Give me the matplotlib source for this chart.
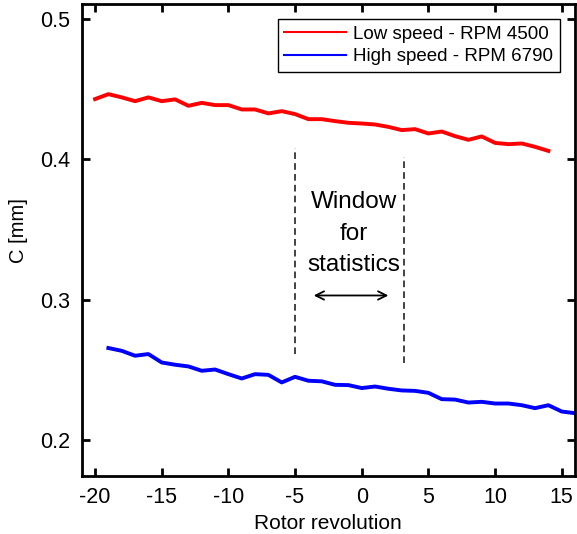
import numpy as np
import matplotlib
matplotlib.use("Agg")
import matplotlib.pyplot as plt
from matplotlib.lines import Line2D

plt.rcParams['font.family'] = ['Liberation Sans', 'DejaVu Sans']
plt.rcParams['axes.unicode_minus'] = False

# low speed (RPM 4500), revolutions -20..14
rev_low = list(range(-20, 15))
c_low = [0.4428, 0.4463, 0.4440, 0.4413, 0.4440, 0.4413, 0.4426, 0.4380, 0.4401,
         0.4385, 0.4385, 0.4354, 0.4354, 0.4326, 0.4342, 0.4321, 0.4285, 0.4285,
         0.4271, 0.4259, 0.4254, 0.4247, 0.4230, 0.4207, 0.4214, 0.4183, 0.4197,
         0.4164, 0.4138, 0.4162, 0.4116, 0.4107, 0.4112, 0.4088, 0.4059]

# high speed (RPM 6790), revolutions -19..16
rev_high = list(range(-19, 17))
c_high = [0.2656, 0.2636, 0.2601, 0.2613, 0.2553, 0.2537, 0.2525, 0.2494, 0.2503,
          0.2470, 0.2439, 0.2470, 0.2465, 0.2411, 0.2451, 0.2423, 0.2419, 0.2394,
          0.2392, 0.2371, 0.2382, 0.2366, 0.2354, 0.2351, 0.2337, 0.2292, 0.2289,
          0.2268, 0.2273, 0.2261, 0.2261, 0.2249, 0.2228, 0.2249, 0.2204, 0.2192]

win_left = -5
win_right = 3.2

fig = plt.figure(figsize=(5.77, 5.34), dpi=100)
ax = fig.add_axes([0.1416, 0.1086, 0.855, 0.884])

ax.plot(rev_low, c_low, color="#ff0000", lw=2.8)
ax.plot(rev_high, c_high, color="#0000ff", lw=2.8)

# statistics window
ax.plot([win_left, win_left], [0.2615, 0.408], color="#222222", lw=1.2, ls=(0, (4, 2.5)))
ax.plot([win_right, win_right], [0.255, 0.4014], color="#222222", lw=1.2, ls=(0, (4, 2.5)))
ax.text(-0.6, 0.347, "Window\nfor\nstatistics", ha="center", va="center",
        fontsize=17.5, linespacing=1.55)
ax.annotate("", xy=(2.0, 0.303), xytext=(-3.6, 0.303),
            arrowprops=dict(arrowstyle="<->,head_length=0.6,head_width=0.3",
                            color="k", lw=1.3, shrinkA=0, shrinkB=0))

ax.set_xlim(-21, 16)
ax.set_ylim(0.1745, 0.5105)
ax.set_xticks([-20, -15, -10, -5, 0, 5, 10, 15])
ax.set_yticks([0.2, 0.3, 0.4, 0.5])
ax.set_yticklabels(["0.2", "0.3", "0.4", "0.5"])
ax.tick_params(direction="in", length=6, width=2, top=True, right=True,
               labelsize=15.5, pad=8)
for s in ax.spines.values():
    s.set_linewidth(2)

ax.set_xlabel("Rotor revolution", fontsize=15)
ax.set_ylabel("C [mm]", fontsize=14.5)
ax.yaxis.set_label_coords(-0.108, 0.52)

handles = [Line2D([], [], color="#ff0000", lw=1.5),
           Line2D([], [], color="#0000ff", lw=1.5)]
leg = ax.legend(handles, ["Low speed - RPM 4500", "High speed - RPM 6790"],
                loc="upper right", fontsize=13.5, handlelength=3.3,
                fancybox=False, framealpha=1, edgecolor="k",
                borderpad=0.35, labelspacing=0.3, handletextpad=0.4,
                borderaxespad=0.8)
leg.get_frame().set_linewidth(1.0)

fig.savefig("out.png", dpi=100)
